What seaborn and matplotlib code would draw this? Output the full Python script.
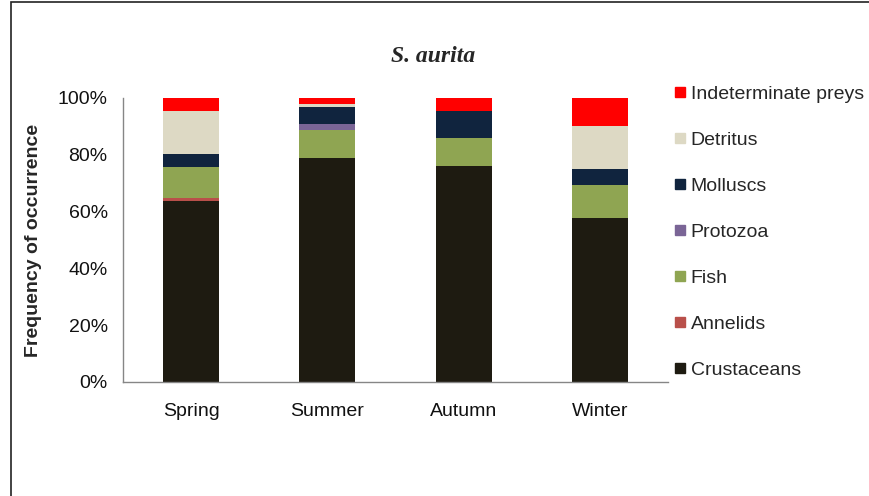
import matplotlib
matplotlib.use("Agg")
import matplotlib.pyplot as plt
import seaborn as sns
import numpy as np
from matplotlib.patches import Rectangle
from matplotlib.lines import Line2D
from matplotlib.ticker import FuncFormatter

seasons = ["Spring", "Summer", "Autumn", "Winter"]
crustaceans = [63.8, 78.9, 76.0, 57.6]
annelids = [1.1, 0.0, 0.0, 0.0]
fish = [10.7, 9.8, 9.8, 11.8]
protozoa = [0.0, 2.0, 0.0, 0.0]
molluscs = [4.7, 6.2, 9.6, 5.5]
detritus = [15.0, 1.0, 0.0, 15.4]
indeterminate = [4.7, 2.1, 4.6, 9.7]

categories = ["Crustaceans", "Annelids", "Fish", "Protozoa", "Molluscs", "Detritus", "Indeterminate preys"]
series = [crustaceans, annelids, fish, protozoa, molluscs, detritus, indeterminate]
colors = ["#1E1B11", "#B9504A", "#8FA552", "#7A6596", "#10243E", "#DDD9C4", "#FF0000"]

sns.set_theme(style="white")
plt.rcParams['font.family'] = ['Liberation Sans', 'DejaVu Sans']

fig = plt.figure(figsize=(8.69, 4.96), dpi=100)
ax = fig.add_axes([123/869, 1-382/496, (668-123)/869, (382-98)/496])

bottom = np.zeros(len(seasons))
for name, vals, col in zip(categories, series, colors):
    sns.barplot(x=seasons, y=vals, bottom=bottom, color=col, width=0.41,
                ax=ax, saturation=1, linewidth=0, edgecolor=col)
    bottom = bottom + np.array(vals)

ax.set_xlim(-0.5, 3.5)
ax.set_ylim(0, 100)
ax.set_yticks([0, 20, 40, 60, 80, 100])
ax.yaxis.set_major_formatter(FuncFormatter(lambda v, p: f"{int(v)}%"))
ax.set_xticks([0, 1, 2, 3])
ax.set_xticklabels(seasons)
ax.set_xticks([-0.5, 0.5, 1.5, 2.5, 3.5], minor=True)
ax.tick_params(axis='x', which='major', length=0, pad=15, labelsize=14, labelcolor='#111111')
ax.tick_params(axis='x', which='minor', length=5, direction='out', color='#868686', width=1)
ax.tick_params(axis='y', which='major', length=5, direction='out', color='#868686', width=1,
               labelsize=14, pad=6, labelcolor='#111111')
for s in ['top', 'right']:
    ax.spines[s].set_visible(False)
for s in ['left', 'bottom']:
    ax.spines[s].set_color('#868686')
    ax.spines[s].set_linewidth(1)
ax.grid(False)
ax.set_xlabel("")
ax.set_ylabel("Frequency of occurrence", fontsize=14, fontweight='bold', labelpad=11)

fig.text(433/869, 1-56/496, "S. aurita", ha='center', va='center',
         fontsize=17, fontweight='bold', fontstyle='italic', family='Liberation Serif')

handles = [Line2D([0], [0], marker='s', linestyle='None', markersize=7,
                  markerfacecolor=c, markeredgecolor=c) for c in colors[::-1]]
fig.legend(handles, categories[::-1], loc='upper left', bbox_to_anchor=(675/869, 1-85/496),
           frameon=False, fontsize=14, handlelength=0.5, handletextpad=0.3,
           labelspacing=1.46, borderaxespad=0, borderpad=0)

fig.add_artist(Rectangle((11/869, -0.1), 1.0, 1 - 2/496 + 0.1, transform=fig.transFigure,
                         fill=False, edgecolor='#222222', linewidth=1.2, clip_on=False))

fig.savefig("out.png", dpi=100)
